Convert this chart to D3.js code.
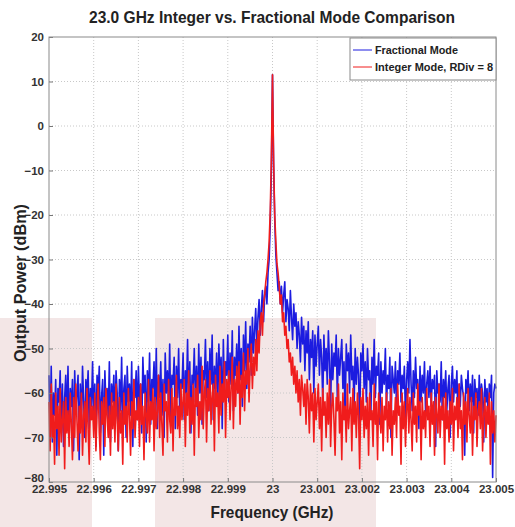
<!DOCTYPE html>
<html>
<head>
<meta charset="utf-8">
<script src="https://cdn.jsdelivr.net/npm/d3@7"></script>
<style>
  body { margin: 0; background: #fff; }
  svg { display: block; font-family: "Liberation Sans", Arial, sans-serif; }
</style>
</head>
<body>
<div id="chart"></div>
<script>
// frequency axis (GHz): 401 samples, 25 kHz apart
var freqStart = 22.995, freqStep = 0.000025;

// Fractional Mode (dBm)
var fractional = [
  -56,-68,-54,-71,-60,-65,-57,-74,-59,-62,-55,-69,-58,-72,-61,-56,-66,-54,-70,-59,
  -63,-57,-73,-55,-64,-60,-56,-75,-58,-67,-54,-62,-70,-57,-61,-55,-68,-59,-63,-53,
  -66,-58,-72,-56,-60,-54,-69,-61,-57,-74,-55,-63,-59,-66,-53,-71,-58,-62,-56,-67,
  -55,-60,-73,-57,-64,-52,-68,-59,-56,-70,-54,-62,-58,-65,-53,-72,-57,-61,-55,-66,
  -54,-63,-58,-69,-52,-60,-56,-71,-55,-62,-51,-67,-57,-59,-53,-64,-50,-68,-56,-61,
  -53,-65,-57,-70,-51,-60,-55,-63,-49,-66,-56,-58,-52,-68,-54,-61,-50,-64,-57,-59,
  -51,-66,-55,-60,-48,-63,-53,-69,-56,-58,-50,-62,-54,-65,-49,-60,-52,-67,-55,-57,
  -48,-61,-53,-64,-50,-58,-47,-66,-54,-59,-51,-63,-49,-57,-52,-68,-48,-60,-53,-56,
  -47,-62,-51,-58,-46,-64,-52,-56,-49,-60,-45,-57,-50,-63,-47,-55,-44,-59,-49,-53,
  -45,-56,-43,-51,-46,-41,-50,-43,-39,-47,-41,-37,-44,-38,-36,-40,-33,-30,-22,-10,
  11.5,
  -9,-21,-29,-33,-37,-35,-40,-36,-42,-38,-35,-44,-39,-41,-46,-37,-43,-48,-40,-45,
  -42,-50,-44,-47,-53,-43,-49,-45,-55,-46,-51,-44,-57,-48,-52,-46,-60,-47,-54,-49,
  -45,-56,-48,-52,-62,-47,-55,-50,-58,-46,-53,-64,-49,-57,-51,-54,-47,-61,-50,-56,
  -52,-48,-59,-53,-66,-49,-55,-51,-60,-47,-57,-54,-63,-50,-58,-52,-56,-68,-51,-55,
  -49,-59,-53,-62,-50,-57,-55,-65,-52,-58,-48,-61,-54,-56,-51,-67,-53,-60,-55,-58,
  -50,-63,-56,-59,-52,-70,-54,-57,-60,-53,-64,-55,-58,-51,-62,-56,-59,-54,-66,-57,
  -53,-60,-48,-58,-64,-55,-61,-52,-59,-57,-68,-54,-62,-56,-60,-53,-65,-58,-55,-61,
  -54,-63,-57,-59,-56,-72,-55,-60,-58,-62,-53,-66,-57,-61,-55,-64,-59,-56,-70,-58,
  -54,-62,-57,-60,-55,-67,-58,-63,-56,-59,-61,-74,-57,-60,-55,-64,-58,-62,-56,-69,
  -57,-61,-59,-65,-56,-63,-58,-60,-71,-57,-62,-59,-66,-58,-61,-56,-79,-60,-58,-59
];

// Integer Mode, RDiv = 8 (dBm)
var integer = [
  -62,-73,-58,-70,-65,-76,-60,-68,-63,-74,-59,-71,-66,-62,-77,-61,-69,-64,-72,-60,
  -67,-75,-61,-70,-58,-66,-73,-63,-69,-60,-74,-65,-62,-71,-59,-68,-76,-61,-66,-63,
  -70,-60,-73,-64,-58,-69,-75,-62,-67,-61,-72,-59,-65,-70,-63,-74,-60,-68,-62,-71,
  -58,-66,-73,-61,-69,-64,-76,-60,-67,-63,-71,-59,-65,-74,-62,-68,-57,-70,-64,-66,
  -61,-72,-58,-67,-63,-75,-60,-65,-69,-57,-71,-62,-66,-59,-73,-61,-68,-64,-56,-70,
  -60,-67,-74,-58,-64,-62,-71,-57,-66,-69,-59,-73,-61,-65,-56,-68,-63,-70,-58,-66,
  -62,-57,-72,-60,-65,-55,-69,-61,-67,-58,-74,-59,-63,-56,-70,-62,-66,-54,-68,-60,
  -57,-71,-59,-64,-55,-67,-61,-58,-73,-56,-63,-60,-69,-54,-65,-58,-62,-53,-70,-57,
  -61,-55,-66,-59,-52,-68,-57,-63,-54,-60,-53,-67,-56,-61,-51,-64,-55,-58,-50,-62,
  -54,-49,-59,-52,-56,-48,-55,-46,-51,-44,-42,-47,-40,-38,-35,-33,-30,-26,-19,-7,
  11.5,
  -8,-20,-26,-31,-33,-36,-40,-38,-44,-42,-47,-45,-50,-48,-53,-51,-56,-52,-58,-54,
  -60,-55,-62,-57,-65,-56,-59,-63,-58,-67,-57,-61,-69,-58,-64,-60,-71,-59,-66,-62,
  -58,-68,-61,-73,-59,-65,-62,-70,-60,-67,-57,-72,-63,-60,-66,-74,-61,-64,-58,-69,
  -62,-75,-60,-66,-63,-71,-58,-68,-64,-61,-73,-59,-67,-62,-70,-60,-65,-77,-61,-66,
  -59,-70,-63,-68,-61,-74,-60,-66,-64,-72,-58,-67,-62,-75,-60,-65,-69,-61,-73,-63,
  -66,-60,-71,-62,-68,-59,-74,-64,-67,-61,-70,-58,-65,-63,-76,-60,-68,-62,-72,-64,
  -59,-69,-61,-66,-73,-60,-67,-63,-71,-58,-65,-62,-75,-61,-68,-64,-70,-59,-66,-63,
  -72,-60,-67,-62,-74,-61,-65,-69,-58,-70,-63,-66,-61,-76,-60,-68,-64,-71,-62,-67,
  -59,-73,-63,-66,-61,-70,-58,-68,-64,-75,-60,-67,-62,-71,-59,-65,-69,-61,-74,-63,
  -66,-60,-72,-64,-62,-68,-59,-73,-65,-61,-70,-63,-67,-60,-76,-62,-69,-64,-71,-65
];

var seriesNames = ["Fractional Mode", "Integer Mode, RDiv = 8"];
var seriesColors = ["#1c1ce0", "#f01c1c"];
var xTicks = [22.995, 22.996, 22.997, 22.998, 22.999, 23, 23.001, 23.002, 23.003, 23.004, 23.005];
var yTicks = [-80, -70, -60, -50, -40, -30, -20, -10, 0, 10, 20];

var W = 515, H = 527;
var margin = {left: 49, right: 19, top: 37, bottom: 45};

var svg = d3.select("#chart").append("svg")
  .attr("width", W).attr("height", H);

// faint pink patches seen in the scanned figure
var patches = [[0, 318, 92, 209], [155, 318, 221, 209]];
svg.selectAll(".patch").data(patches).enter().append("rect")
  .attr("x", function(d) { return d[0]; })
  .attr("y", function(d) { return d[1]; })
  .attr("width", function(d) { return d[2]; })
  .attr("height", function(d) { return d[3]; })
  .attr("fill", "#f3e6e6");

var x = d3.scaleLinear().domain([22.995, 23.005]).range([margin.left, W - margin.right]);
var y = d3.scaleLinear().domain([-80, 20]).range([H - margin.bottom, margin.top]);

// grid
svg.append("g").selectAll("line").data(xTicks.slice(1, -1)).enter().append("line")
  .attr("x1", function(d) { return x(d); }).attr("x2", function(d) { return x(d); })
  .attr("y1", y(-80)).attr("y2", y(20))
  .attr("stroke", "#c8c8c8").attr("stroke-dasharray", "1,2");
svg.append("g").selectAll("line").data(yTicks.slice(1, -1)).enter().append("line")
  .attr("x1", x(22.995)).attr("x2", x(23.005))
  .attr("y1", function(d) { return y(d); }).attr("y2", function(d) { return y(d); })
  .attr("stroke", "#c8c8c8").attr("stroke-dasharray", "1,2");

// series
var line = d3.line()
  .x(function(d, i) { return x(freqStart + i * freqStep); })
  .y(function(d) { return y(d); });

[fractional, integer].forEach(function(vals, k) {
  svg.append("path")
    .datum(vals)
    .attr("d", line)
    .attr("fill", "none")
    .attr("stroke", seriesColors[k])
    .attr("stroke-width", 1.6)
    .attr("stroke-linejoin", "round");
});

// axes
var xAxis = d3.axisBottom(x).tickValues(xTicks).tickSize(-4).tickPadding(6)
  .tickFormat(function(d) { return d === 23 ? "23" : d3.format(".3f")(d); });
var yAxis = d3.axisLeft(y).tickValues(yTicks).tickSize(-4).tickPadding(5);

var gx = svg.append("g").attr("transform", "translate(0," + y(-80) + ")").call(xAxis);
var gy = svg.append("g").attr("transform", "translate(" + x(22.995) + ",0)").call(yAxis);
[gx, gy].forEach(function(g) {
  g.select(".domain").remove();
  g.selectAll("line").attr("stroke", "#777");
  g.selectAll("text").attr("fill", "#333").attr("font-size", 11.5)
    .attr("font-weight", "bold").attr("font-family", "Liberation Sans Narrow, Liberation Sans, Arial");
});
gx.selectAll("text").attr("dy", "0.45em");
gy.selectAll("text").filter(function(d) { return d === -80; }).attr("dy", "-0.05em");

// box
svg.append("rect")
  .attr("x", x(22.995)).attr("y", y(20))
  .attr("width", x(23.005) - x(22.995)).attr("height", y(-80) - y(20))
  .attr("fill", "none").attr("stroke", "#8a8a8a").attr("stroke-width", 1);

// title and labels
svg.append("text").attr("x", 272).attr("y", 23).attr("text-anchor", "middle")
  .attr("font-size", 16.5).attr("font-weight", "bold").attr("fill", "#222")
  .attr("textLength", 366).attr("lengthAdjust", "spacingAndGlyphs")
  .text("23.0 GHz Integer vs. Fractional Mode Comparison");
svg.append("text").attr("x", 272).attr("y", 518).attr("text-anchor", "middle")
  .attr("font-size", 17).attr("font-weight", "bold").attr("fill", "#222")
  .attr("textLength", 123).attr("lengthAdjust", "spacingAndGlyphs")
  .text("Frequency (GHz)");
svg.append("text").attr("transform", "translate(26,283) rotate(-90)").attr("text-anchor", "middle")
  .attr("font-size", 17).attr("font-weight", "bold").attr("fill", "#222")
  .attr("textLength", 158).attr("lengthAdjust", "spacingAndGlyphs")
  .text("Output Power (dBm)");

// legend
var legendWidths = [83, 118];
var lg = svg.append("g").attr("transform", "translate(350,38)");
lg.append("rect").attr("width", 146).attr("height", 42)
  .attr("fill", "#fff").attr("stroke", "#8a8a8a");
seriesNames.forEach(function(name, k) {
  var ly = 12 + k * 17;
  lg.append("line").attr("x1", 3).attr("x2", 22).attr("y1", ly).attr("y2", ly)
    .attr("stroke", seriesColors[k]).attr("stroke-width", 1);
  lg.append("text").attr("x", 25).attr("y", ly + 4).attr("font-size", 11.5)
    .attr("font-weight", "bold").attr("fill", "#222")
    .attr("textLength", legendWidths[k]).attr("lengthAdjust", "spacingAndGlyphs")
    .text(name);
});
</script>
</body>
</html>
